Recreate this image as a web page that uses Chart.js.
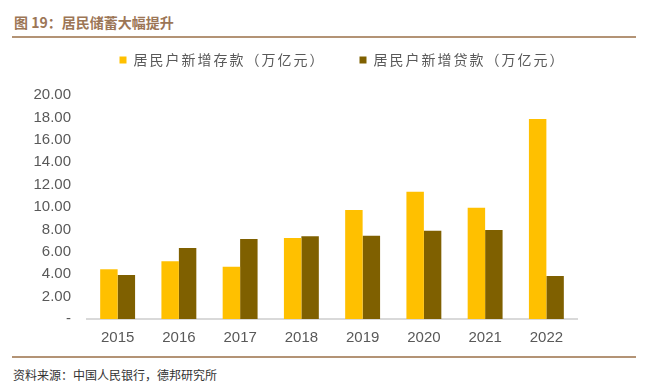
<!DOCTYPE html>
<html>
<head>
<meta charset="utf-8">
<script src="https://cdn.jsdelivr.net/npm/chart.js@4/dist/chart.umd.min.js"></script>
<style>
  body { margin: 0; background: #fff; width: 646px; height: 388px; position: relative; overflow: hidden; }
  .title { position: absolute; left: 14px; top: 12px; font: bold 14px "Noto Sans CJK SC", sans-serif; color: #9c7656; }
  .rule { position: absolute; left: 12px; width: 624px; height: 2px; background: #b39375; }
  .source { position: absolute; left: 13px; top: 366px; font: 12px "Noto Sans CJK SC", sans-serif; color: #333; }
  #wrap { position: absolute; left: 0; top: 40px; width: 646px; height: 312px; }
</style>
</head>
<body>
<div class="title">图 19：居民储蓄大幅提升</div>
<div class="rule" style="top:36px"></div>
<div id="wrap"><canvas id="chart"></canvas></div>
<div class="rule" style="top:356px"></div>
<div class="source">资料来源：中国人民银行，德邦研究所</div>
<script>
const years = ['2015', '2016', '2017', '2018', '2019', '2020', '2021', '2022'];
const depositNew = [4.44, 5.15, 4.67, 7.23, 9.73, 11.37, 9.94, 17.86];
const loanNew = [3.93, 6.34, 7.14, 7.38, 7.44, 7.89, 7.95, 3.84];
const seriesNames = ['居民户新增存款（万亿元）', '居民户新增贷款（万亿元）'];

Chart.defaults.font.family = '"Liberation Sans", Arial, sans-serif';
Chart.defaults.color = '#595959';

// legend: spaced-out text, fixed height, nudged into place
const legendTweak = {
    id: 'legendTweak',
    afterInit(chart) {
        const lg = chart.legend;
        const fit = lg.fit.bind(lg);
        const draw = lg.draw.bind(lg);
        const dx = 54, dy = -24;
        lg.fit = function () {
            chart.ctx.letterSpacing = '2px';
            fit();
            chart.ctx.letterSpacing = '0px';
            this.height = 52;
        };
        lg.draw = function () {
            chart.ctx.letterSpacing = '2px';
            this.left += dx; this.right += dx; this.top += dy; this.bottom += dy;
            draw();
            this.left -= dx; this.right -= dx; this.top -= dy; this.bottom -= dy;
            chart.ctx.letterSpacing = '0px';
        };
    }
};

new Chart(document.getElementById('chart'), {
    type: 'bar',
    data: {
        labels: years,
        datasets: [{
            label: seriesNames[0],
            backgroundColor: '#ffc000',
            data: depositNew,
            categoryPercentage: 0.57,
            barPercentage: 1.0
        }, {
            label: seriesNames[1],
            backgroundColor: '#7f6000',
            data: loanNew,
            categoryPercentage: 0.57,
            barPercentage: 1.0
        }]
    },
    options: {
        responsive: true,
        maintainAspectRatio: false,
        animation: false,
        layout: {
            padding: { top: 3, left: 0, right: 69, bottom: 0 }
        },
        plugins: {
            legend: {
                position: 'top',
                labels: {
                    boxWidth: 7,
                    boxHeight: 7,
                    padding: 34,
                    color: '#595959',
                    font: { family: '"Noto Sans CJK SC", sans-serif', size: 14 }
                }
            },
            tooltip: { enabled: false }
        },
        scales: {
            x: {
                grid: { display: false, drawTicks: false },
                border: { display: true, color: '#d9d9d9', width: 2 },
                ticks: { padding: 10, font: { size: 15 }, color: '#595959' },
                afterFit(scale) { scale.height = 33; }
            },
            y: {
                min: 0,
                max: 20,
                grid: { display: false, drawTicks: false },
                border: { display: false },
                ticks: {
                    stepSize: 2,
                    padding: 16,
                    font: { size: 15 },
                    color: '#595959',
                    callback: v => v === 0 ? '-' : v.toFixed(2)
                },
                afterFit(scale) { scale.width = 87; }
            }
        }
    },
    plugins: [legendTweak]
});
</script>
</body>
</html>
